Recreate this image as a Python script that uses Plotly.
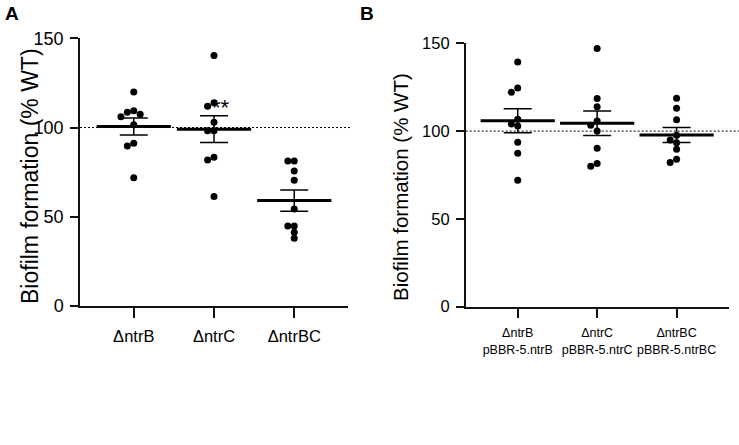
import numpy as np
import plotly.graph_objects as go

# ---------------- data ----------------
labels_a = ["ΔntrB", "ΔntrC", "ΔntrBC"]
labels_b = ["ΔntrB<br>pBBR-5.ntrB", "ΔntrC<br>pBBR-5.ntrC", "ΔntrBC<br>pBBR-5.ntrBC"]

a_ntrB = [119.9, 109.4, 108.5, 107.4, 106.1, 101.6, 91.2, 89.6, 71.9]
a_ntrC = [140.3, 113.9, 111.9, 102.9, 98.2, 98.2, 83.3, 81.8, 61.3]
a_ntrBC = [81.2, 81.2, 75.6, 70.4, 54.4, 44.8, 44.8, 41.3, 37.9]

b_ntrB = [139.4, 124.6, 122.1, 106.7, 104.0, 102.9, 93.7, 87.4, 72.0]
b_ntrC = [147.1, 118.5, 113.9, 105.7, 103.3, 100.0, 90.3, 81.5, 80.0]
b_ntrBC = [118.7, 113.0, 106.5, 97.7, 94.9, 93.4, 89.7, 84.0, 82.1]

y_ticks = [0, 50, 100, 150]
wt_level = 100
signif_label = "**"
signif_group = 1
signif_value = 111.0

FONT = "Liberation Sans, Arial, sans-serif"
W, H = 739, 445


def swarm(vals, px_per_unit, px_per_cat, diam=6.0, step=3.2):
    vals = np.asarray(vals, dtype=float)
    order = np.argsort(-vals, kind="stable")
    placed = []
    offs = np.zeros(len(vals))
    cands = [0.0]
    for k in range(1, 15):
        cands += [-k * step, k * step]
    for i in order:
        ypx = vals[i] * px_per_unit
        chosen = cands[-1]
        for c in cands:
            if all((c - px) ** 2 + (ypx - py) ** 2 >= diam ** 2 for px, py in placed):
                chosen = c
                break
        placed.append((chosen, ypx))
        offs[i] = chosen / px_per_cat
    return offs


panels = [
    dict(groups=[a_ntrB, a_ntrC, a_ntrBC], labels=labels_a, xa="x", ya="y",
         xdom=(80, 348), ydom=(38.3, 306), xr=(-0.67, 2.67), tick=18, xtick=16.5,
         line_ext=1.008),
    dict(groups=[b_ntrB, b_ntrC, b_ntrBC], labels=labels_b, xa="x2", ya="y2",
         xdom=(465.7, 729), ydom=(43.3, 306.7), xr=(-0.655, 2.66), tick=16.5, xtick=12.5,
         line_ext=1.038),
]

fig = go.Figure()
shapes = []
for p in panels:
    px_unit = (p["ydom"][1] - p["ydom"][0]) / 150.0
    px_cat = (p["xdom"][1] - p["xdom"][0]) / (p["xr"][1] - p["xr"][0])
    for i, vals in enumerate(p["groups"]):
        offs = swarm(vals, px_unit, px_cat)
        fig.add_trace(go.Scatter(
            x=i + offs, y=vals, mode="markers",
            marker=dict(size=7, color="black"),
            xaxis=p["xa"], yaxis=p["ya"], showlegend=False, cliponaxis=False,
            hoverinfo="y"))
    means = [float(np.mean(v)) for v in p["groups"]]
    sems = [float(np.std(v, ddof=1) / np.sqrt(len(v))) for v in p["groups"]]
    fig.add_trace(go.Scatter(
        x=list(range(len(means))), y=means, mode="markers",
        marker=dict(symbol="line-ew", size=53, color="black",
                    line=dict(width=3, color="black")),
        error_y=dict(type="data", array=sems, visible=True, thickness=1.5,
                     width=14, color="black"),
        xaxis=p["xa"], yaxis=p["ya"], showlegend=False, cliponaxis=False))
    shapes.append(dict(type="line", xref=p["xa"] + " domain", yref=p["ya"],
                       x0=0, x1=p["line_ext"], y0=wt_level, y1=wt_level,
                       line=dict(color="black", width=1, dash="2px,2px"),
                       layer="below"))

fig.update_layout(width=W, height=H, autosize=False,
                  margin=dict(l=0, r=0, t=0, b=0, pad=0, autoexpand=False),
                  plot_bgcolor="white", paper_bgcolor="white",
                  font=dict(family=FONT, color="black"), shapes=shapes)

for k, p in enumerate(panels):
    sfx = "" if k == 0 else "2"
    fig.update_layout({
        "xaxis" + sfx: dict(
            domain=[p["xdom"][0] / W, p["xdom"][1] / W], range=list(p["xr"]),
            tickmode="array", tickvals=list(range(3)), ticktext=p["labels"],
            tickangle=0, automargin=False, ticklabelstandoff=4,
            ticks="outside", ticklen=10,
            tickwidth=1.5, tickcolor="#111", showline=True, linewidth=1.5,
            linecolor="#111", showgrid=False, zeroline=False, anchor=p["ya"],
            tickfont=dict(size=p["xtick"], family=FONT, color="black")),
        "yaxis" + sfx: dict(
            domain=[1 - p["ydom"][1] / H, 1 - p["ydom"][0] / H], range=[0, 150],
            tickmode="array", tickvals=y_ticks, ticks="outside", ticklen=8,
            automargin=False, tickwidth=1.5, tickcolor="#111", showline=True,
            linewidth=1.5, linecolor="#111", showgrid=False, zeroline=False,
            anchor=p["xa"], ticklabelstandoff=3,
            tickfont=dict(size=p["tick"], family=FONT, color="black")),
    })

annotations = [
    dict(text="Biofilm formation (% WT)", x=30 / W, y=1 - 176 / H, xref="paper",
         yref="paper", textangle=-90, showarrow=False, xanchor="center",
         yanchor="middle", font=dict(size=23, family=FONT, color="black")),
    dict(text="Biofilm formation (% WT)", x=400 / W, y=1 - 187 / H, xref="paper",
         yref="paper", textangle=-90, showarrow=False, xanchor="center",
         yanchor="middle", font=dict(size=20.5, family=FONT, color="black")),
    dict(text="<b>A</b>", x=11.5 / W, y=1 - 14 / H, xref="paper", yref="paper",
         showarrow=False, xanchor="center", yanchor="middle",
         font=dict(size=19, family=FONT, color="black")),
    dict(text="<b>B</b>", x=367 / W, y=1 - 14 / H, xref="paper", yref="paper",
         showarrow=False, xanchor="center", yanchor="middle",
         font=dict(size=19, family=FONT, color="black")),
    dict(text=signif_label, x=signif_group + 0.09, y=signif_value, xref="x",
         yref="y", showarrow=False, xanchor="center", yanchor="middle",
         font=dict(size=22, family=FONT, color="black")),
]
fig.update_layout(annotations=annotations)

fig.write_html("out.html", config={"displayModeBar": False},
               post_script="document.body.style.margin = '0';")
